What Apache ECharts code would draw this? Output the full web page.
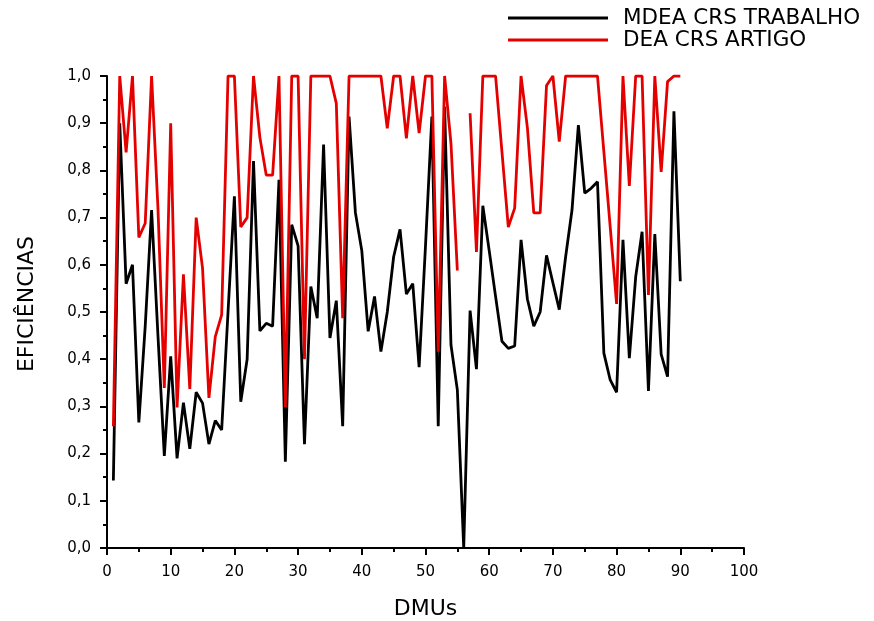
<!DOCTYPE html>
<html>
<head>
<meta charset="utf-8">
<script src="https://cdn.jsdelivr.net/npm/echarts@6/dist/echarts.min.js"></script>
<style>html,body{margin:0;padding:0;background:#fff}#c{width:874px;height:621px}</style>
</head>
<body>
<div id="c"></div>
<script>
const dmus = Array.from({length: 90}, (_, i) => i + 1);
const mdeaTrabalho = [0.143,0.90,0.56,0.60,0.266,0.47,0.716,0.45,0.195,0.406,
0.19,0.308,0.21,0.33,0.307,0.22,0.27,0.25,0.50,0.745,
0.31,0.40,0.82,0.46,0.476,0.47,0.78,0.183,0.685,0.64,
0.22,0.554,0.487,0.855,0.445,0.524,0.258,0.914,0.71,0.63,
0.459,0.533,0.416,0.50,0.617,0.675,0.538,0.56,0.383,0.64,
0.914,0.258,0.935,0.43,0.335,0.0,0.503,0.379,0.725,0.63,
0.533,0.438,0.423,0.428,0.653,0.527,0.47,0.50,0.62,0.562,
0.505,0.617,0.716,0.896,0.752,0.762,0.776,0.413,0.356,0.33,
0.653,0.402,0.575,0.67,0.333,0.665,0.41,0.363,0.925,0.565];
const deaArtigo = [0.258,1.0,0.838,1.0,0.658,0.688,1.0,0.72,0.339,0.90,
0.298,0.58,0.337,0.70,0.593,0.318,0.448,0.494,1.0,1.0,
0.68,0.70,1.0,0.87,0.79,0.79,1.0,0.298,1.0,1.0,
0.40,1.0,1.0,1.0,1.0,0.942,0.487,1.0,1.0,1.0,
1.0,1.0,1.0,0.889,1.0,1.0,0.868,1.0,0.879,1.0,
1.0,0.416,1.0,0.857,0.588,null,0.921,0.627,1.0,1.0,
1.0,0.84,0.68,0.72,1.0,0.89,0.71,0.71,0.98,1.0,
0.861,1.0,1.0,1.0,1.0,1.0,1.0,0.84,0.68,0.517,
1.0,0.767,1.0,1.0,0.536,1.0,0.797,0.988,1.0,1.0];
const seriesNames = ['MDEA CRS TRABALHO', 'DEA CRS ARTIGO'];

const font = 'DejaVu Sans, Liberation Sans, sans-serif';
const chart = echarts.init(document.getElementById('c'));
const axisCommon = {
  axisLine: {show: true, lineStyle: {color: '#000', width: 2}},
  axisTick: {show: true, inside: false, length: 7, lineStyle: {color: '#000', width: 2}},
  minorTick: {show: true, splitNumber: 2, length: 4, lineStyle: {color: '#000', width: 2}},
  splitLine: {show: false}
};
chart.setOption({
  animation: false,
  backgroundColor: '#fff',
  grid: {left: 107, right: 130, top: 76, bottom: 73, containLabel: false, outerBoundsMode: 'none'},
  legend: {
    orient: 'vertical', left: 508, top: 7, itemGap: 0, padding: 0,
    itemWidth: 100, itemHeight: 22,
    textStyle: {color: '#000', fontFamily: font, fontSize: 21.5, lineHeight: 22, padding: [0, 0, 0, 10]},
    data: seriesNames.map(n => ({name: n, icon: 'path://M0,0 L100,0 L100,3 L0,3 Z'}))
  },
  xAxis: Object.assign({
    type: 'value', min: 0, max: 100, interval: 10,
    name: 'DMUs', nameLocation: 'middle', nameGap: 50,
    nameTextStyle: {color: '#000', fontFamily: font, fontSize: 22},
    axisLabel: {color: '#000', fontFamily: font, fontSize: 15, margin: 17}
  }, axisCommon),
  yAxis: Object.assign({
    type: 'value', min: 0, max: 1, interval: 0.1,
    name: 'EFICIÊNCIAS', nameLocation: 'middle', nameGap: 69, nameRotate: 90,
    nameTextStyle: {color: '#000', fontFamily: font, fontSize: 22, padding: [0, 0, 0, 16]},
    axisLabel: {color: '#000', fontFamily: font, fontSize: 15, margin: 16,
      formatter: v => v.toFixed(1).replace('.', ',')}
  }, axisCommon),
  series: [
    {name: seriesNames[0], type: 'line', symbol: 'none', connectNulls: false,
     lineStyle: {color: '#000', width: 2.8}, itemStyle: {color: '#000'},
     data: dmus.map((d, i) => [d, mdeaTrabalho[i]])},
    {name: seriesNames[1], type: 'line', symbol: 'none', connectNulls: false,
     lineStyle: {color: '#e50000', width: 2.8}, itemStyle: {color: '#e50000'},
     data: dmus.map((d, i) => [d, deaArtigo[i]])}
  ]
});
</script>
</body>
</html>
